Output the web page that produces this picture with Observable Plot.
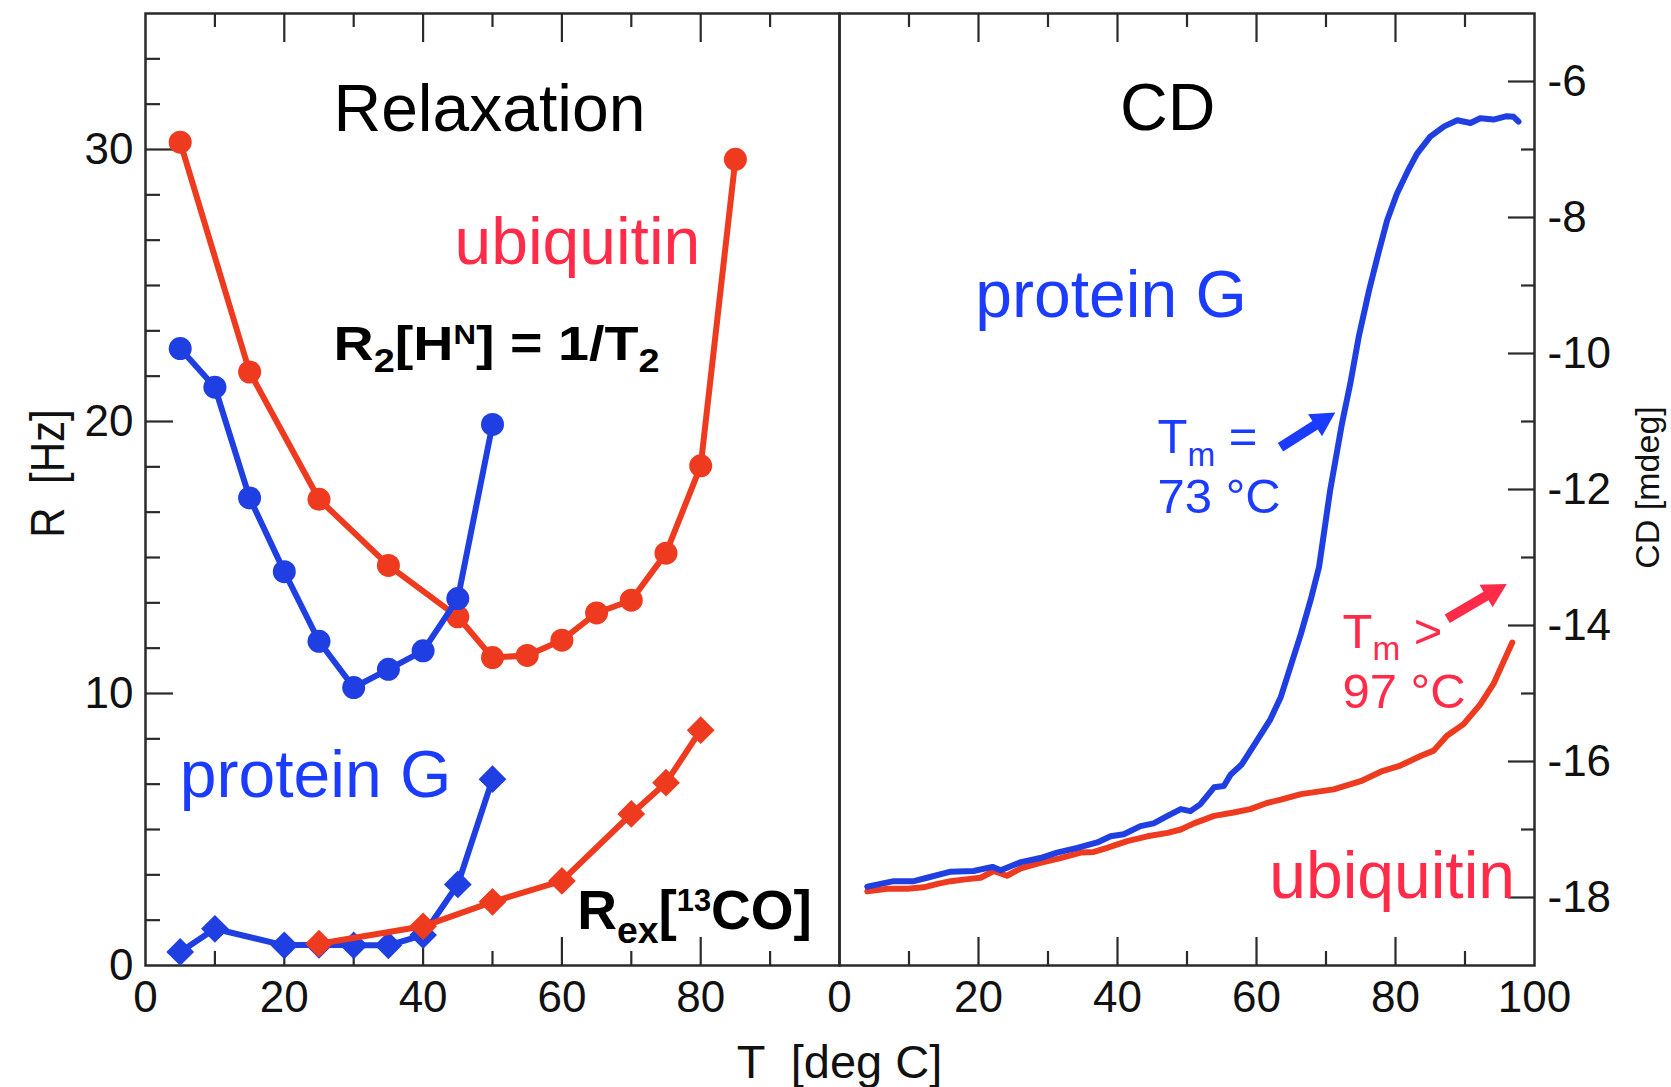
<!DOCTYPE html>
<html>
<head>
<meta charset="utf-8">
<script src="https://cdn.jsdelivr.net/npm/d3@7"></script>
<script src="https://cdn.jsdelivr.net/npm/@observablehq/plot@0.6"></script>
<style>
  html, body { margin: 0; padding: 0; background: #fff; }
  #chart { position: relative; width: 1671px; height: 1087px; overflow: hidden; background: #fff; }
  #chart svg { position: absolute; top: 0; overflow: visible; }
  #chart svg text { white-space: pre; }
</style>
</head>
<body>
<div id="chart"></div>
<script>
// ---------- Relaxation panel: R2[HN] (circles) and Rex[13CO] (diamonds), Hz vs °C ----------
const r2Temp_ubq = [5, 15, 25, 35, 45, 50, 55, 60, 65, 70, 75, 80, 85];
const r2_ubq     = [30.27, 21.82, 17.14, 14.71, 12.82, 11.32, 11.40, 11.96, 12.96, 13.43, 15.16, 18.37, 29.64];
const r2Temp_gb1 = [5, 10, 15, 20, 25, 30, 35, 40, 45, 50];
const r2_gb1     = [22.68, 21.26, 17.19, 14.48, 11.92, 10.22, 10.89, 11.57, 13.49, 19.89];
const rexTemp_gb1 = [5, 10, 20, 25, 30, 35, 40, 45, 50];
const rex_gb1     = [0.50, 1.35, 0.74, 0.76, 0.74, 0.74, 1.12, 2.98, 6.85];
const rexTemp_ubq = [25, 40, 50, 60, 70, 75, 80];
const rex_ubq     = [0.80, 1.44, 2.34, 3.11, 5.57, 6.72, 8.65];

// ---------- CD panel: thermal melts, mdeg vs °C ----------
const cdTemp_gb1 = [4.0, 7.8, 10.7, 12.6, 16.0, 19.3, 22.0, 23.2, 26.1, 28.9, 31.3, 34.2, 37.1, 39.0, 40.9,
  43.3, 45.2, 47.2, 49.1, 50.5, 51.9, 53.9, 55.3, 56.3, 57.9, 59.9, 62.0, 63.5, 64.9, 66.4, 67.8, 69.0,
  70.6, 72.3, 73.5, 74.7, 76.2, 77.4, 78.8, 80.2, 81.7, 83.1, 85.0, 87.0, 88.9, 90.8, 92.2, 94.1, 96.0, 97.0, 97.7];
const cd_gb1 = [-17.84, -17.76, -17.76, -17.71, -17.62, -17.61, -17.55, -17.60, -17.48, -17.42, -17.34, -17.27,
  -17.19, -17.10, -17.07, -16.95, -16.91, -16.80, -16.70, -16.73, -16.63, -16.38, -16.36, -16.19, -16.04,
  -15.72, -15.38, -15.05, -14.60, -14.12, -13.62, -13.14, -12.01, -11.03, -10.44, -9.76, -9.07, -8.58,
  -8.04, -7.65, -7.33, -7.06, -6.81, -6.66, -6.57, -6.61, -6.54, -6.56, -6.51, -6.52, -6.59];
const cdTemp_ubq = [4.0, 6.9, 9.8, 12.1, 14.1, 16.0, 18.4, 20.3, 22.2, 24.1, 26.1, 28.9, 31.8, 34.7, 36.6,
  38.5, 41.4, 44.3, 47.2, 49.1, 51.0, 53.9, 56.7, 59.1, 61.5, 63.5, 66.4, 71.1, 75.0, 78.1, 80.7, 83.6,
  85.5, 87.4, 89.8, 92.2, 94.1, 95.6, 96.8];
const cd_ubq = [-17.91, -17.87, -17.87, -17.85, -17.80, -17.76, -17.73, -17.71, -17.61, -17.68, -17.57,
  -17.49, -17.42, -17.34, -17.33, -17.27, -17.17, -17.10, -17.05, -17.00, -16.91, -16.80, -16.75, -16.70,
  -16.61, -16.56, -16.48, -16.41, -16.29, -16.14, -16.06, -15.92, -15.84, -15.62, -15.45, -15.16, -14.86,
  -14.52, -14.25];

// ---------- ticks ----------
const tempMajor = [20, 40, 60, 80];
const tempMinor = [10, 30, 50, 70, 90];
const relaxTempLabels = [0, 20, 40, 60, 80];
const cdTempLabels = [0, 20, 40, 60, 80, 100];
const rMajor = [10, 20, 30];
const rMinor = [1.667, 3.333, 5, 6.667, 8.333, 11.667, 13.333, 15, 16.667, 18.333,
  21.667, 23.333, 25, 26.667, 28.333, 31.667, 33.333];
const rLabels = [0, 10, 20, 30];
const cdMajor = [-6, -8, -10, -12, -14, -16, -18];
const cdMinor = [-7, -9, -11, -13, -15, -17];

// ---------- colours & fonts ----------
const BLUE = "#1f3fe2", RED = "#ee3b20";
const BLUE_TXT = "#1b3cff", RED_TXT = "#ff2b48";
const INK = "#2a2a2a";
const FONT = "'Liberation Sans', Arial, Helvetica, sans-serif";
const TICK_FONT = 44;
const LINE_W = 6;

const pts = (xs, ys) => xs.map((x, i) => ({x, y: ys[i]}));

// inward-pointing frame ticks (tick marks only, no labels)
function frameTicks(axis, anchor, values, size) {
  const f = axis === "x" ? Plot.axisX : Plot.axisY;
  return f(values, {anchor, tickSize: -size, fill: "none", label: null, stroke: INK, strokeWidth: 2.2});
}

// thick arrow with a filled triangular head, drawn pointing up before rotation
const thickArrow = {
  draw(context, l) {
    const w = 5, hw = 13, h = 24;
    context.moveTo(-w, 0);
    context.lineTo(-w, -(l - h));
    context.lineTo(-hw, -(l - h));
    context.lineTo(0, -l);
    context.lineTo(hw, -(l - h));
    context.lineTo(w, -(l - h));
    context.lineTo(w, 0);
    context.closePath();
  }
};

const H = 1087, MT = 13, MB = 122;

// ---------------- left panel ----------------
const relax = Plot.plot({
  width: 840, height: H,
  marginLeft: 145, marginRight: 1, marginTop: MT, marginBottom: MB,
  x: {domain: [0, 100]},
  y: {domain: [0, 35]},
  style: {fontFamily: FONT, background: "transparent", overflow: "visible", color: "#111"},
  marks: [
    frameTicks("x", "bottom", tempMajor, 28),
    frameTicks("x", "bottom", tempMinor, 14),
    frameTicks("x", "top", tempMajor, 28),
    frameTicks("x", "top", tempMinor, 13),
    frameTicks("y", "left", rMajor, 28),
    frameTicks("y", "left", rMinor, 15),
    Plot.axisX(relaxTempLabels, {anchor: "bottom", tickSize: 0, tickPadding: 15, fontSize: TICK_FONT, label: null, fill: "#111"}),
    Plot.axisY(rLabels, {anchor: "left", tickSize: 0, tickPadding: 12, fontSize: TICK_FONT, label: null, fill: "#111"}),
    Plot.frame({stroke: INK, strokeWidth: 2.5}),

    // R2[HN]
    Plot.line(pts(r2Temp_ubq, r2_ubq), {x: "x", y: "y", stroke: RED, strokeWidth: LINE_W}),
    Plot.dot(pts(r2Temp_ubq, r2_ubq), {x: "x", y: "y", r: 11.5, fill: RED, symbol: "circle"}),
    Plot.line(pts(r2Temp_gb1, r2_gb1), {x: "x", y: "y", stroke: BLUE, strokeWidth: LINE_W}),
    Plot.dot(pts(r2Temp_gb1, r2_gb1), {x: "x", y: "y", r: 11.5, fill: BLUE, symbol: "circle"}),

    // Rex[13CO]
    Plot.line(pts(rexTemp_gb1, rex_gb1), {x: "x", y: "y", stroke: BLUE, strokeWidth: LINE_W}),
    Plot.dot(pts(rexTemp_gb1, rex_gb1), {x: "x", y: "y", r: 12.5, fill: BLUE, symbol: "diamond2"}),
    Plot.line(pts(rexTemp_ubq, rex_ubq), {x: "x", y: "y", stroke: RED, strokeWidth: LINE_W}),
    Plot.dot(pts(rexTemp_ubq, rex_ubq), {x: "x", y: "y", r: 12.5, fill: RED, symbol: "diamond2"}),

    // annotations
    Plot.text(["Relaxation"], {x: 27.09, y: 30.69, textAnchor: "start", lineAnchor: "bottom", fontSize: 66, fill: "#000"}),
    Plot.text(["ubiquitin"], {x: 44.52, y: 25.79, textAnchor: "start", lineAnchor: "bottom", fontSize: 66, fill: RED_TXT}),
    Plot.text(["R_{2}[H^{N}] = 1/T_{2}"], {x: 27.09, y: 22.27, textAnchor: "start", lineAnchor: "bottom", fontSize: 48, fontWeight: "bold", fill: "#000"}),
    Plot.text(["protein G"], {x: 4.94, y: 6.21, textAnchor: "start", lineAnchor: "bottom", fontSize: 66, fill: BLUE_TXT}),
    Plot.text(["R_{ex}[^{13}CO]"], {x: 62.2, y: 1.35, textAnchor: "start", lineAnchor: "bottom", fontSize: 55, fontWeight: "bold", fill: "#000"}),

    // y-axis title
    Plot.text(["R  [Hz]"], {frameAnchor: "left", dx: -82, dy: -16, rotate: -90, textAnchor: "middle", lineAnchor: "bottom", fontSize: 42, fill: "#111"})
  ]
});

// ---------------- right panel ----------------
const cd = Plot.plot({
  width: 832, height: H,
  marginLeft: 0, marginRight: 137, marginTop: MT, marginBottom: MB,
  x: {domain: [0, 100]},
  y: {domain: [-19, -5]},
  style: {fontFamily: FONT, background: "transparent", overflow: "visible", color: "#111"},
  marks: [
    frameTicks("x", "bottom", tempMajor, 28),
    frameTicks("x", "bottom", tempMinor, 14),
    frameTicks("x", "top", tempMajor, 28),
    frameTicks("x", "top", tempMinor, 13),
    frameTicks("y", "right", cdMajor, 27),
    frameTicks("y", "right", cdMinor, 14),
    Plot.axisX(cdTempLabels, {anchor: "bottom", tickSize: 0, tickPadding: 15, fontSize: TICK_FONT, label: null, fill: "#111"}),
    Plot.axisY(cdMajor, {anchor: "right", tickSize: 0, tickPadding: 13, fontSize: TICK_FONT, label: null, fill: "#111", tickFormat: (d) => `${d}`}),
    Plot.frame({stroke: INK, strokeWidth: 2.5}),

    Plot.line(pts(cdTemp_ubq, cd_ubq), {x: "x", y: "y", stroke: RED, strokeWidth: LINE_W}),
    Plot.line(pts(cdTemp_gb1, cd_gb1), {x: "x", y: "y", stroke: BLUE, strokeWidth: LINE_W}),

    // annotations
    Plot.text(["CD"], {x: 40.37, y: -6.72, textAnchor: "start", lineAnchor: "bottom", fontSize: 66, fill: "#000"}),
    Plot.text(["protein G"], {x: 19.54, y: -9.46, textAnchor: "start", lineAnchor: "bottom", fontSize: 66, fill: BLUE_TXT}),
    Plot.text(["T_{m} =\n73 °C"], {x: 45.76, y: -12.35, textAnchor: "start", lineAnchor: "bottom", lineHeight: 1.23, fontSize: 49, fill: BLUE_TXT}),
    Plot.vector([{x: 63.45, y: -11.38}], {x: "x", y: "y", length: 65, rotate: 57.5, anchor: "start", shape: thickArrow, fill: BLUE_TXT, stroke: "none"}),
    Plot.text(["T_{m} >\n97 °C"], {x: 72.37, y: -15.21, textAnchor: "start", lineAnchor: "bottom", lineHeight: 1.23, fontSize: 49, fill: RED_TXT}),
    Plot.vector([{x: 87.44, y: -13.90}], {x: "x", y: "y", length: 69, rotate: 59.7, anchor: "start", shape: thickArrow, fill: RED_TXT, stroke: "none"}),
    Plot.text(["ubiquitin"], {x: 61.83, y: -18.01, textAnchor: "start", lineAnchor: "bottom", fontSize: 66, fill: RED_TXT}),

    // shared temperature axis title, centred on the panel divider
    Plot.text(["T  [deg C]"], {frameAnchor: "bottom-left", dy: 112, textAnchor: "middle", lineAnchor: "bottom", fontSize: 47, fill: "#111"}),
    // CD axis title
    Plot.text(["CD [mdeg]"], {frameAnchor: "right", dx: 124, dy: -2, rotate: -90, textAnchor: "middle", lineAnchor: "bottom", fontSize: 34, fill: "#111"})
  ]
});

const chart = document.getElementById("chart");
relax.style.left = "0px";
cd.style.left = "839px";
chart.append(relax, cd);

// Turn _{..} / ^{..} markup into subscript / superscript tspans
const SVGNS = "http://www.w3.org/2000/svg";
function richify(el) {
  const s = el.textContent;
  if (!/[_^]\{/.test(s)) return;
  const F = parseFloat(getComputedStyle(el).fontSize);
  const segs = [];
  const re = /([_^])\{([^}]*)\}/g;
  let last = 0, m;
  while ((m = re.exec(s))) {
    if (m.index > last) segs.push({text: s.slice(last, m.index), kind: ""});
    segs.push({text: m[2], kind: m[1]});
    last = re.lastIndex;
  }
  if (last < s.length) segs.push({text: s.slice(last), kind: ""});
  el.textContent = "";
  let offset = 0;
  for (const seg of segs) {
    const ts = document.createElementNS(SVGNS, "tspan");
    const target = seg.kind === "_" ? 0.26 * F : seg.kind === "^" ? -0.32 * F : 0;
    if (target !== offset) ts.setAttribute("dy", target - offset);
    offset = target;
    if (seg.kind) ts.setAttribute("font-size", (seg.kind === "_" ? 0.68 : 0.56) * F);
    ts.textContent = seg.text;
    el.appendChild(ts);
  }
}
// horizontal stretch for the bold rate label, and a taller cap height for the R axis title
const stretchTo = {"R_{2}[H^{N}] = 1/T_{2}": 326};
const tallen = {"R  [Hz]": 1.15};
for (const t of chart.querySelectorAll("text")) {
  const orig = t.textContent;
  const lines = t.querySelectorAll(":scope > tspan");
  if (lines.length) lines.forEach(richify); else richify(t);
  if (stretchTo[orig]) {
    const sx = stretchTo[orig] / t.getBBox().width;
    t.setAttribute("transform", (t.getAttribute("transform") || "") + ` scale(${sx},1)`);
  }
  if (tallen[orig]) {
    t.setAttribute("transform", (t.getAttribute("transform") || "") + ` scale(1,${tallen[orig]})`);
  }
}
</script>
</body>
</html>
